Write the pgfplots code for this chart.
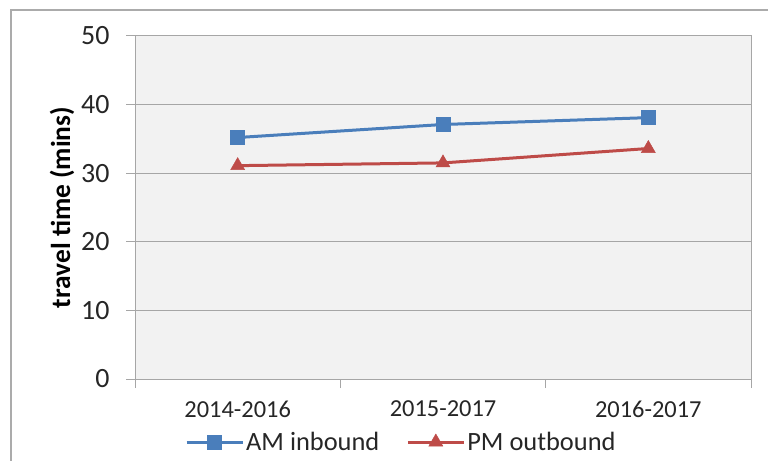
\documentclass[border=0pt]{standalone}
\usepackage{pgfplots}
\pgfplotsset{compat=1.18}
\usepackage{fontspec}
\setmainfont{Carlito}
\definecolor{amblue}{HTML}{4A7EBB}
\definecolor{pmred}{HTML}{BE4B48}
\definecolor{gridgray}{HTML}{A6A6A6}
\definecolor{plotbg}{HTML}{F2F2F2}
\definecolor{framegray}{HTML}{ABABAB}
\definecolor{txt}{HTML}{262626}
\begin{document}
\begin{tikzpicture}
\useasboundingbox (0,0) rectangle (768bp,461bp);
\draw[framegray, line width=2bp] (11bp,-20bp) rectangle (790bp,451bp);
\begin{axis}[
  at={(135bp,82bp)}, anchor=south west,
  scale only axis, width=616bp, height=343bp,
  xmin=-0.5, xmax=2.5, ymin=0, ymax=50,
  axis background/.style={fill=plotbg},
  axis line style={gridgray, line width=1bp},
  xtick={0,1,2},
  xticklabels={2014-2016,2015-2017,2016-2017},
  major x tick style={draw=none},
  minor xtick={-0.5,0.5,1.5,2.5},
  minor x tick style={gridgray, line width=1bp},
  minor tick length=9bp,
  ytick={0,10,20,30,40,50},
  major y tick style={gridgray, line width=1bp},
  major tick length=9bp,
  tick align=outside,
  tick pos=left,
  ymajorgrids,
  major grid style={gridgray, line width=1bp},
  /pgf/number format/assume math mode=true,
  xticklabel style={font=\fontsize{24.5}{26}\selectfont, text=txt, yshift=-9bp},
  yticklabel style={font=\fontsize{28}{30}\selectfont, text=txt, xshift=-13bp},
  ylabel={travel time (mins)},
  every axis y label/.style={at={(62bp-135bp,171.5bp)}, anchor=center, rotate=90,
    font=\bfseries\fontsize{27.5}{29}\selectfont, text=black},
  legend columns=2,
  legend style={at={(185bp-135bp,-63bp)}, anchor=west, draw=none, fill=none,
    font=\fontsize{26.5}{28}\selectfont, text=txt, inner sep=0pt,
    /tikz/every even column/.append style={column sep=25bp},
    /tikz/every odd column/.append style={column sep=0bp}},
  legend cell align=left,
  legend image code/.code={\draw[mark repeat=2,mark phase=2] plot coordinates {(0bp,0bp)(28bp,0bp)(56bp,0bp)};},
  clip=false,
]
\addplot[amblue, line width=3bp, mark=square*, mark size=7bp, mark options={fill=amblue, line width=0.5bp}]
  coordinates {(0,35.2) (1,37.1) (2,38.1)};
\addlegendentry{AM inbound}
\addplot[pmred, line width=3bp, mark=triangle*, mark size=8bp, mark options={fill=pmred, line width=0.5bp}]
  coordinates {(0,31.1) (1,31.5) (2,33.6)};
\addlegendentry{PM outbound}
\end{axis}
\end{tikzpicture}
\end{document}
